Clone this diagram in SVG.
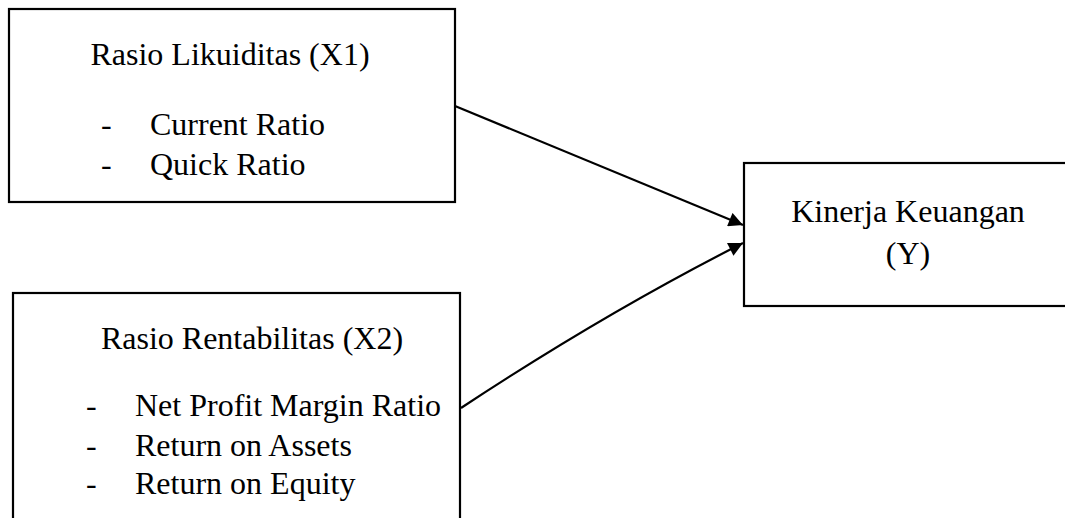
<svg xmlns="http://www.w3.org/2000/svg" width="1065" height="518" viewBox="0 0 1065 518">
<style>
  .box { fill: #fff; stroke: #000; stroke-width: 2.2; }
  .t { font-family: "Liberation Serif", "Times New Roman", serif; font-size: 32px; fill: #000; }
  .c { text-anchor: middle; }
  .conn { fill: none; stroke: #000; stroke-width: 2.2; }
</style>
<defs>
  <marker id="arrow" viewBox="0 0 10 10" refX="10" refY="5" markerWidth="7.5" markerHeight="6.5" markerUnits="strokeWidth" orient="auto">
    <path d="M0,0 L10,5 L0,10 Z" fill="#000"/>
  </marker>
</defs>
<rect width="1065" height="518" fill="#fff"/>
<g id="node-x1">
  <rect class="box" x="9" y="9" width="446" height="193"/>
  <text class="t c" x="230" y="65">Rasio Likuiditas (X1)</text>
  <text class="t" x="101" y="135">-</text>
  <text class="t" x="150" y="135">Current Ratio</text>
  <text class="t" x="101" y="175">-</text>
  <text class="t" x="150" y="175">Quick Ratio</text>
</g>
<g id="node-x2">
  <rect class="box" x="13" y="293" width="447" height="240"/>
  <text class="t c" x="252" y="349">Rasio Rentabilitas (X2)</text>
  <text class="t" x="86" y="416">-</text>
  <text class="t" x="135" y="416">Net Profit Margin Ratio</text>
  <text class="t" x="86" y="456">-</text>
  <text class="t" x="135" y="456">Return on Assets</text>
  <text class="t" x="86" y="494">-</text>
  <text class="t" x="135" y="494">Return on Equity</text>
</g>
<g id="node-y">
  <rect class="box" x="744" y="163" width="330" height="143"/>
  <text class="t c" x="908" y="222">Kinerja Keuangan</text>
  <text class="t c" x="908" y="264">(Y)</text>
</g>
<g id="connectors">
  <path class="conn" d="M455,106 L743,225" marker-end="url(#arrow)"/>
  <path class="conn" d="M461,408 Q605,313 743,243" marker-end="url(#arrow)"/>
</g>
</svg>
